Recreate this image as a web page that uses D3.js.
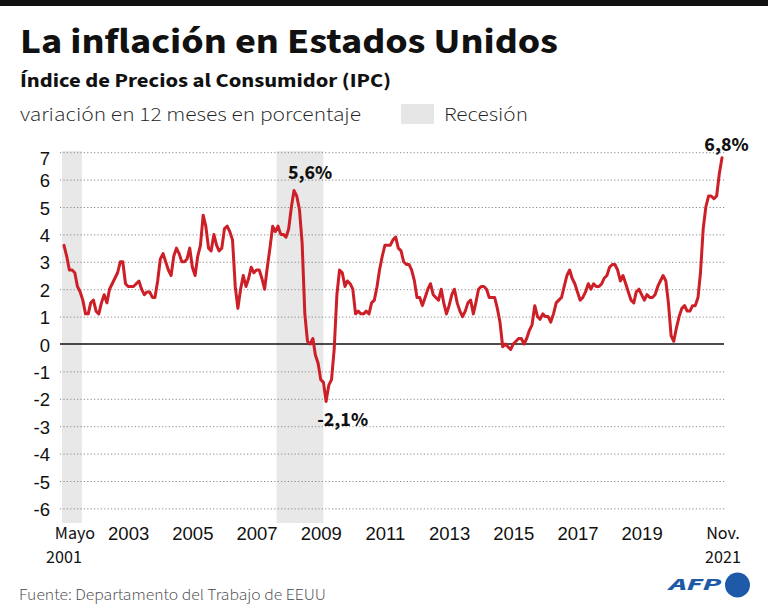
<!DOCTYPE html>
<html><head><meta charset="utf-8">
<script src="https://cdn.jsdelivr.net/npm/d3@7"></script>
<style>
body{margin:0;background:#fff;}
svg{display:block;font-family:"Source Sans Pro","Source Sans 3",Lato,"Noto Sans",sans-serif;}
</style></head><body><svg id="c" width="768" height="615"></svg>
<script>
// ---- data ----
const startMonth = "2001-05";
const endMonth = "2021-11";
// US CPI, 12-month % change, monthly from May 2001 to Nov 2021
const inflation = [
  3.6, 3.2, 2.7, 2.7, 2.6, 2.1, 1.9, 1.6,                      // 2001
  1.1, 1.1, 1.5, 1.6, 1.2, 1.1, 1.5, 1.8, 1.5, 2.0, 2.2, 2.4,  // 2002
  2.6, 3.0, 3.0, 2.2, 2.1, 2.1, 2.1, 2.2, 2.3, 2.0, 1.8, 1.9,  // 2003
  1.9, 1.7, 1.7, 2.3, 3.1, 3.3, 3.0, 2.7, 2.5, 3.2, 3.5, 3.3,  // 2004
  3.0, 3.0, 3.1, 3.5, 2.8, 2.5, 3.2, 3.6, 4.7, 4.3, 3.5, 3.4,  // 2005
  4.0, 3.6, 3.4, 3.5, 4.2, 4.3, 4.1, 3.8, 2.1, 1.3, 2.0, 2.5,  // 2006
  2.1, 2.4, 2.8, 2.6, 2.7, 2.7, 2.4, 2.0, 2.8, 3.5, 4.3, 4.1,  // 2007
  4.3, 4.0, 4.0, 3.9, 4.2, 5.0, 5.6, 5.4, 4.9, 3.7, 1.1, 0.1,  // 2008
  0.0, 0.2, -0.4, -0.7, -1.3, -1.4, -2.1, -1.5, -1.3, -0.2, 1.8, 2.7, // 2009
  2.6, 2.1, 2.3, 2.2, 2.0, 1.1, 1.2, 1.1, 1.1, 1.2, 1.1, 1.5,  // 2010
  1.6, 2.1, 2.7, 3.2, 3.6, 3.6, 3.6, 3.8, 3.9, 3.5, 3.4, 3.0,  // 2011
  2.9, 2.9, 2.7, 2.3, 1.7, 1.7, 1.4, 1.7, 2.0, 2.2, 1.8, 1.7,  // 2012
  1.6, 2.0, 1.5, 1.1, 1.4, 1.8, 2.0, 1.5, 1.2, 1.0, 1.2, 1.5,  // 2013
  1.6, 1.1, 1.5, 2.0, 2.1, 2.1, 2.0, 1.7, 1.7, 1.7, 1.3, 0.8,  // 2014
  -0.1, 0.0, -0.1, -0.2, 0.0, 0.1, 0.2, 0.2, 0.0, 0.2, 0.5, 0.7, // 2015
  1.4, 1.0, 0.9, 1.1, 1.0, 1.0, 0.8, 1.1, 1.5, 1.6, 1.7, 2.1,  // 2016
  2.5, 2.7, 2.4, 2.2, 1.9, 1.6, 1.7, 1.9, 2.2, 2.0, 2.2, 2.1,  // 2017
  2.1, 2.2, 2.4, 2.5, 2.8, 2.9, 2.9, 2.7, 2.3, 2.5, 2.2, 1.9,  // 2018
  1.6, 1.5, 1.9, 2.0, 1.8, 1.6, 1.8, 1.7, 1.7, 1.8, 2.1, 2.3,  // 2019
  2.5, 2.3, 1.5, 0.3, 0.1, 0.6, 1.0, 1.3, 1.4, 1.2, 1.2, 1.4,  // 2020
  1.4, 1.7, 2.6, 4.2, 5.0, 5.4, 5.4, 5.3, 5.4, 6.2, 6.8        // 2021
];
const yTicks = [-6, -5, -4, -3, -2, -1, 0, 1, 2, 3, 4, 5, 6, 7];
const yearTickLabels = ["2003", "2005", "2007", "2009", "2011", "2013", "2015", "2017", "2019"];
const startLabel = ["Mayo", "2001"];
const endLabel = ["Nov.", "2021"];
const recessions = [["2001-03-01", "2001-11-20"], ["2007-12-15", "2009-05-31"]];
const annotationMonths = ["2008-07", "2009-07", "2021-11"];
const annotationLabels = ["5,6%", "-2,1%", "6,8%"];

// ---- drawing ----
const svg = d3.select("#c");
const pm = d3.timeParse("%Y-%m");
const pd = d3.timeParse("%Y-%m-%d");
const start = pm(startMonth), end = pm(endMonth);
const data = inflation.map((v, i) => ({date: d3.timeMonth.offset(start, i), value: v}));

const x = d3.scaleTime().domain([start, end]).range([64, 722]);
const y = d3.scaleLinear().domain([-6, 7]).range([508.4, 152.2]);
const gridL = 60, gridR = 725;

// top bar
svg.append("rect").attr("x", 0).attr("y", 0).attr("width", 768).attr("height", 6).attr("fill", "#111");

// titles
svg.append("text").attr("x", 20).attr("y", 53).attr("font-size", 36).attr("font-weight", 700)
  .attr("fill", "#111").attr("textLength", 538).attr("lengthAdjust", "spacingAndGlyphs")
  .text("La inflación en Estados Unidos");
svg.append("text").attr("x", 20).attr("y", 87).attr("font-size", 19.5).attr("font-weight", 700)
  .attr("fill", "#111").attr("textLength", 371).attr("lengthAdjust", "spacingAndGlyphs")
  .text("Índice de Precios al Consumidor (IPC)");
svg.append("text").attr("x", 20).attr("y", 121).attr("font-size", 19.5).attr("font-weight", 300)
  .attr("fill", "#222").attr("textLength", 341).attr("lengthAdjust", "spacingAndGlyphs")
  .text("variación en 12 meses en porcentaje");
svg.append("rect").attr("x", 401).attr("y", 104).attr("width", 33).attr("height", 20).attr("fill", "#e6e6e6");
svg.append("text").attr("x", 444).attr("y", 121).attr("font-size", 19.5).attr("font-weight", 300)
  .attr("fill", "#222").attr("textLength", 84).attr("lengthAdjust", "spacingAndGlyphs")
  .text("Recesión");

// recession bands
svg.append("g").selectAll("rect").data(recessions).join("rect")
  .attr("x", d => Math.max(x(pd(d[0])), 62))
  .attr("width", d => x(pd(d[1])) - Math.max(x(pd(d[0])), 62))
  .attr("y", 151).attr("height", 523 - 151)
  .attr("fill", "#e8e8e8");

// dotted grid
const grid = svg.append("g").attr("transform", `translate(${gridL},0)`)
  .call(d3.axisLeft(y).tickValues(yTicks.filter(d => d !== 0)).tickSize(-(gridR - gridL)).tickFormat(""));
grid.select(".domain").remove();
grid.selectAll("line").attr("stroke", "#8a8a8a").attr("stroke-width", 1).attr("stroke-dasharray", "1.2,2.2");

// zero line
svg.append("line").attr("x1", gridL).attr("x2", gridR - 1).attr("y1", y(0)).attr("y2", y(0))
  .attr("stroke", "#111").attr("stroke-width", 1.6);

// y axis labels
const ya = svg.append("g").attr("transform", "translate(50,0)")
  .call(d3.axisLeft(y).tickValues(yTicks).tickSize(0).tickPadding(0).tickFormat(d => String(d)));
ya.select(".domain").remove();
ya.selectAll("text").attr("font-size", 18.5).attr("fill", "#111").attr("font-family", null)
  .attr("dy", d => d === 7 ? "0.66em" : "0.38em");

// x axis labels
const xa = svg.append("g").attr("transform", "translate(0,540)")
  .call(d3.axisBottom(x).tickValues(yearTickLabels.map(s => new Date(+s, 4, 1))).tickSize(0)
    .tickFormat(d3.timeFormat("%Y")));
xa.select(".domain").remove();
xa.selectAll("text").attr("y", 0).attr("dy", 0).attr("font-size", 18.5).attr("fill", "#111").attr("font-family", null);

const ex = svg.append("g").attr("font-size", 18).attr("fill", "#111").attr("text-anchor", "middle");
ex.append("text").attr("x", x(start) + 11).attr("y", 539).text(startLabel[0]);
ex.append("text").attr("x", x(start)).attr("y", 563).text(startLabel[1]);
ex.append("text").attr("x", x(end) + 1).attr("y", 539).text(endLabel[0]);
ex.append("text").attr("x", x(end) + 1).attr("y", 563).text(endLabel[1]);

// line
svg.append("path").datum(data)
  .attr("fill", "none").attr("stroke", "#cc1f27").attr("stroke-width", 3)
  .attr("stroke-linejoin", "round").attr("stroke-linecap", "round")
  .attr("d", d3.line().x(d => x(d.date)).y(d => y(d.value)));

// annotations
const offs = [[16, -12], [16.5, 24], [4.5, -7]];
annotationMonths.forEach((m, i) => {
  const dt = pm(m);
  const pt = data.find(d => +d.date === +dt);
  svg.append("text").attr("x", x(dt) + offs[i][0]).attr("y", y(pt.value) + offs[i][1])
    .attr("text-anchor", "middle").attr("font-size", 20).attr("font-weight", 700).attr("fill", "#111")
    .text(annotationLabels[i]);
});

// source
svg.append("text").attr("x", 19).attr("y", 600).attr("font-size", 16.5).attr("font-weight", 300)
  .attr("fill", "#444").attr("textLength", 307).attr("lengthAdjust", "spacingAndGlyphs")
  .text("Fuente: Departamento del Trabajo de EEUU");

// AFP logo
svg.append("text").attr("x", 669).attr("y", 589.5).attr("font-size", 17).attr("font-weight", 800)
  .attr("font-style", "italic").attr("fill", "#1f5aa8").attr("textLength", 52).attr("lengthAdjust", "spacingAndGlyphs")
  .text("AFP");
svg.append("circle").attr("cx", 737.5).attr("cy", 585).attr("r", 12.5).attr("fill", "#1f5aa8");
</script></body></html>
